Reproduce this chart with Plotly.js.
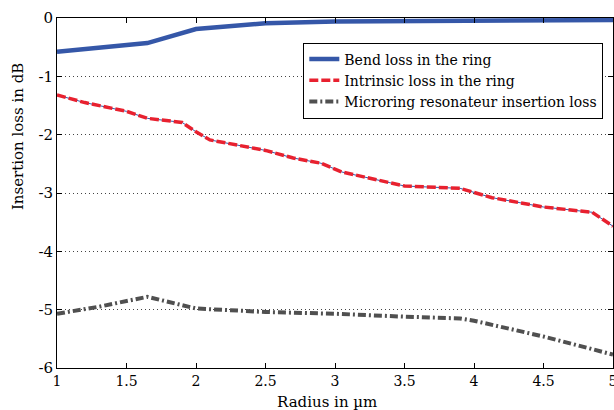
<!DOCTYPE html>
<html>
<head>
<meta charset="utf-8">
<script src="https://cdn.plot.ly/plotly-3.0.1.min.js"></script>
<style>html,body{margin:0;padding:0;background:#fff;}#chart{width:614px;height:410px;}</style>
</head>
<body>
<div id="chart"></div>
<script>
// Radius in µm
const bendX = [1, 1.3, 1.65, 2, 2.5, 3, 3.5, 4, 4.5, 5];
const bendY = [-0.58, -0.51, -0.43, -0.19, -0.09, -0.06, -0.05, -0.045, -0.04, -0.035];

const intrX = [1, 1.2, 1.5, 1.65, 1.9, 2, 2.1, 2.5, 2.7, 2.9, 3.05, 3.5, 3.9, 4.13, 4.5, 4.85, 5];
const intrY = [-1.32, -1.45, -1.6, -1.72, -1.79, -1.95, -2.09, -2.27, -2.4, -2.49, -2.64, -2.88, -2.92, -3.08, -3.24, -3.33, -3.57];

const micX = [1, 1.3, 1.65, 2, 2.5, 3, 3.5, 3.9, 4, 4.5, 5];
const micY = [-5.07, -4.95, -4.78, -4.98, -5.04, -5.07, -5.12, -5.15, -5.19, -5.46, -5.77];

const names = ["Bend loss in the ring", "Intrinsic loss in the ring", "Microring resonateur insertion loss"];

const yTicks = [0, -1, -2, -3, -4, -5, -6];
const yTickText = ["0", "-1", "-2", "-3", "-4", "-5", "-6"];
const xTicks = [1, 1.5, 2, 2.5, 3, 3.5, 4, 4.5, 5];
const xTickText = ["1", "1.5", "2", "2.5", "3", "3.5", "4", "4.5", "5"];

const FONT = "DejaVu Serif";

const traces = [
  {x: bendX, y: bendY, name: names[0], mode: "lines", line: {color: "#3557a8", width: 4.5}},
  {x: intrX, y: intrY, name: "", mode: "lines", showlegend: false, line: {color: "#3557a8", width: 1}},
  {x: intrX, y: intrY, name: names[1], mode: "lines", line: {color: "#e8212f", width: 3.5, dash: "9px,3px"}},
  {x: micX, y: micY, name: names[2], mode: "lines", line: {color: "#505050", width: 4, dash: "8px,3px,2px,3px"}}
];

const layout = {
  width: 614, height: 410,
  margin: {l: 57, r: 1, t: 18, b: 42, pad: 0},
  paper_bgcolor: "#fff", plot_bgcolor: "#fff",
  font: {family: FONT, size: 15, color: "#000"},
  showlegend: true,
  legend: {
    x: 0.443, y: 0.93, xanchor: "left", yanchor: "top",
    bgcolor: "#fff", bordercolor: "#000", borderwidth: 1,
    font: {family: FONT, size: 14, color: "#000"},
    tracegroupgap: 0, itemwidth: 30
  },
  xaxis: {
    range: [1, 5], tickvals: xTicks, ticktext: xTickText,
    showgrid: false, zeroline: false,
    showline: true, linecolor: "#000", linewidth: 1, mirror: "ticks",
    ticks: "inside", ticklen: 5, tickcolor: "#000",
    ticklabeloverflow: "allow",
    tickfont: {family: FONT, size: 14}
  },
  yaxis: {
    range: [-6, 0], tickvals: yTicks, ticktext: yTickText,
    showgrid: true, gridcolor: "#444", griddash: "1px,3px", gridwidth: 1,
    zeroline: false,
    showline: true, linecolor: "#000", linewidth: 1, mirror: "ticks",
    ticks: "inside", ticklen: 5, tickcolor: "#000",
    tickfont: {family: FONT, size: 15}
  },
  annotations: [{
    text: "Insertion loss in dB", textangle: -90,
    xref: "paper", yref: "paper", x: -0.07, y: 0.66,
    xanchor: "center", yanchor: "middle", showarrow: false,
    font: {family: FONT, size: 15, color: "#000"}
  }, {
    text: "Radius in µm",
    xref: "paper", yref: "paper", x: 0.486, y: -0.096,
    xanchor: "center", yanchor: "middle", showarrow: false,
    font: {family: FONT, size: 15, color: "#000"}
  }]
};

Plotly.newPlot("chart", traces, layout, {staticPlot: true, displayModeBar: false});
</script>
</body>
</html>
